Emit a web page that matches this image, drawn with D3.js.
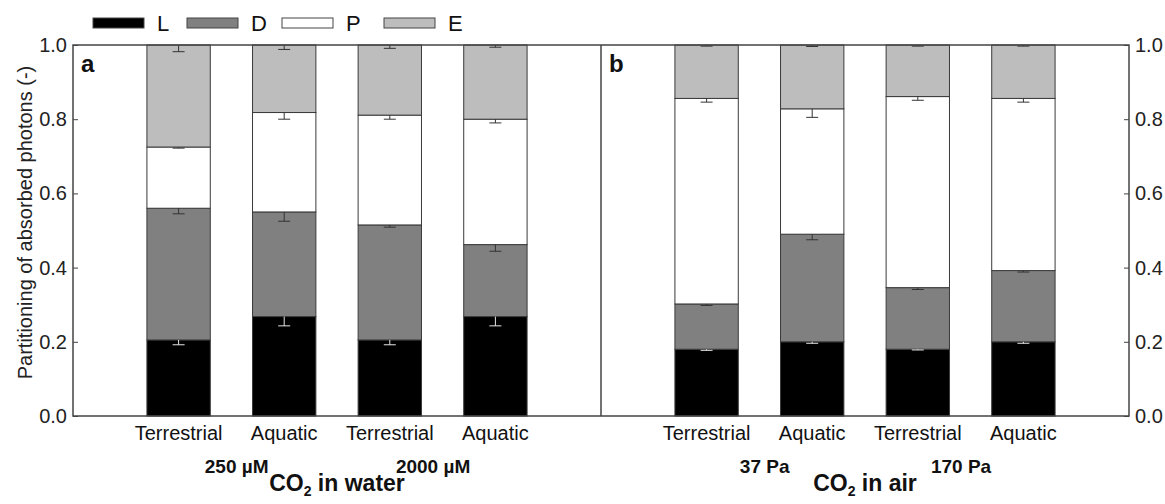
<!DOCTYPE html>
<html>
<head>
<meta charset="utf-8">
<script src="https://cdn.jsdelivr.net/npm/d3@7"></script>
<style>
  body { margin: 0; background: #fff; }
  svg { display: block; font-family: Arial, "Liberation Sans", Helvetica, sans-serif; }
</style>
</head>
<body>
<div class="chart"></div>
<script>
// ---- data ----
const components = ['L', 'D', 'P', 'E'];
const compColors = ['#000000', '#808080', '#ffffff', '#bdbdbd'];
const categories = ['Terrestrial', 'Aquatic', 'Terrestrial', 'Aquatic'];
const yTicks = [0, 0.2, 0.4, 0.6, 0.8, 1.0];

// panel a: CO2 in water
const waterLevels = ['250 \u00b5M', '2000 \u00b5M'];
const waterL = [0.205, 0.268, 0.205, 0.268];
const waterD = [0.355, 0.282, 0.310, 0.194];
const waterP = [0.165, 0.268, 0.296, 0.338];
const waterE = [0.275, 0.182, 0.189, 0.200];
const waterErrL = [0.013, 0.025, 0.013, 0.025];
const waterErrD = [0.015, 0.025, 0.006, 0.018];
const waterErrP = [0.003, 0.018, 0.011, 0.010];
const waterErrE = [0.018, 0.012, 0.009, 0.006];

// panel b: CO2 in air
const airLevels = ['37 Pa', '170 Pa'];
const airL = [0.180, 0.200, 0.180, 0.200];
const airD = [0.122, 0.290, 0.166, 0.192];
const airP = [0.554, 0.338, 0.515, 0.464];
const airE = [0.144, 0.172, 0.139, 0.144];
const airErrL = [0.003, 0.004, 0.002, 0.004];
const airErrD = [0.004, 0.015, 0.005, 0.004];
const airErrP = [0.010, 0.023, 0.010, 0.010];
const airErrE = [0.003, 0.004, 0.003, 0.003];

const levelPos = [1.55, 3.41];   // x position of level labels (bar units)

// ---- layout ----
const width = 1165;
const height = 504;
const plotLeft = 73, plotRight = 1129, plotMid = 601, plotTop = 45, plotBottom = 416;

const svg = d3.select('.chart')
  .append('svg')
  .attr('width', width)
  .attr('height', height);

const y = d3.scaleLinear().domain([0, 1]).range([plotBottom, plotTop]);

function buildRows(L, D, P, E, eL, eD, eP, eE) {
  return L.map((v, i) => ({
    i: i,
    L: v, D: D[i], P: P[i], E: E[i],
    err: { L: eL[i], D: eD[i], P: eP[i], E: eE[i] }
  }));
}

const panels = [
  {
    tag: 'a', x0: plotLeft, x1: plotMid, levels: waterLevels, title: 'water',
    rows: buildRows(waterL, waterD, waterP, waterE, waterErrL, waterErrD, waterErrP, waterErrE)
  },
  {
    tag: 'b', x0: plotMid, x1: plotRight, levels: airLevels, title: 'air',
    rows: buildRows(airL, airD, airP, airE, airErrL, airErrD, airErrP, airErrE)
  }
];

const stack = d3.stack().keys(components);
const color = d3.scaleOrdinal().domain(components).range(compColors);
const barW = 0.6;

panels.forEach((p) => {
  const x = d3.scaleLinear().domain([0, 5]).range([p.x0, p.x1]);
  const g = svg.append('g');
  const series = stack(p.rows);

  // stacked bars
  series.forEach((s) => {
    g.append('g')
      .selectAll('rect')
      .data(s)
      .enter().append('rect')
      .attr('x', (d) => x(d.data.i + 1 - barW / 2))
      .attr('width', x(barW) - x(0))
      .attr('y', (d) => y(d[1]))
      .attr('height', (d) => y(d[0]) - y(d[1]))
      .attr('fill', color(s.key))
      .attr('stroke', '#3a3a3a')
      .attr('stroke-width', 1);
  });

  // error bars (only the lower half shows, the upper half hides under the next segment)
  series.forEach((s) => {
    const stroke = s.key === 'L' ? '#e6e6e6' : '#333';
    const eg = g.append('g').attr('stroke', stroke).attr('stroke-width', 1);
    s.forEach((d) => {
      const cx = x(d.data.i + 1);
      const e = d.data.err[s.key];
      eg.append('line')
        .attr('x1', cx).attr('x2', cx)
        .attr('y1', y(d[1])).attr('y2', y(d[1] - e));
      eg.append('line')
        .attr('x1', cx - 6).attr('x2', cx + 6)
        .attr('y1', y(d[1] - e)).attr('y2', y(d[1] - e));
    });
  });

  // category labels
  g.selectAll('text.cat')
    .data(categories)
    .enter().append('text')
    .attr('class', 'cat')
    .attr('x', (d, i) => x(i + 1))
    .attr('y', 440)
    .attr('text-anchor', 'middle')
    .attr('font-size', 20)
    .attr('fill', '#111')
    .text((d) => d);

  // level labels
  g.selectAll('text.level')
    .data(p.levels)
    .enter().append('text')
    .attr('class', 'level')
    .attr('x', (d, i) => x(levelPos[i]))
    .attr('y', 473)
    .attr('text-anchor', 'middle')
    .attr('font-size', 19)
    .attr('font-weight', 'bold')
    .attr('fill', '#111')
    .text((d) => d);

  // group title: CO2 in ...
  const t = g.append('text')
    .attr('x', x(2.5))
    .attr('y', 491)
    .attr('text-anchor', 'middle')
    .attr('font-size', 23)
    .attr('font-weight', 'bold')
    .attr('fill', '#111');
  t.append('tspan').text('CO');
  t.append('tspan').attr('font-size', 14).attr('dy', 5).text('2');
  t.append('tspan').attr('dy', -5).text(' in ' + p.title);

  // panel tag
  g.append('text')
    .attr('x', p.x0 + 8)
    .attr('y', 72)
    .attr('font-size', 24)
    .attr('font-weight', 'bold')
    .attr('fill', '#111')
    .text(p.tag);
});

// ---- axes ----
const fmt = d3.format('.1f');
const yAxisL = d3.axisLeft(y).tickValues(yTicks).tickFormat(fmt).tickSizeInner(-5).tickSizeOuter(0).tickPadding(6);
const yAxisR = d3.axisRight(y).tickValues(yTicks).tickFormat(fmt).tickSizeInner(-5).tickSizeOuter(0).tickPadding(6);

const gL = svg.append('g').attr('transform', `translate(${plotLeft},0)`).call(yAxisL);
const gR = svg.append('g').attr('transform', `translate(${plotRight},0)`).call(yAxisR);
[gL, gR].forEach((a) => {
  a.select('.domain').remove();
  a.selectAll('line').attr('stroke', '#444');
  a.selectAll('text').attr('font-size', 20).attr('fill', '#222');
  a.attr('font-family', null).attr('font-size', null);
});

// frame
svg.append('rect')
  .attr('x', plotLeft).attr('y', plotTop)
  .attr('width', plotRight - plotLeft).attr('height', plotBottom - plotTop)
  .attr('fill', 'none').attr('stroke', '#444').attr('stroke-width', 1.5);
svg.append('line')
  .attr('x1', plotMid).attr('x2', plotMid).attr('y1', plotTop).attr('y2', plotBottom)
  .attr('stroke', '#444').attr('stroke-width', 1.5);

// y title
svg.append('text')
  .attr('transform', `translate(32,${(plotTop + plotBottom) / 2 - 8}) rotate(-90)`)
  .attr('text-anchor', 'middle')
  .attr('font-size', 20)
  .attr('fill', '#222')
  .text('Partitioning of absorbed photons (-)');

// ---- legend ----
const legend = svg.append('g');
const legX = [93, 187, 282, 384];
components.forEach((c, i) => {
  legend.append('rect')
    .attr('x', legX[i]).attr('y', 18)
    .attr('width', 51).attr('height', 10)
    .attr('fill', compColors[i])
    .attr('stroke', '#444').attr('stroke-width', 1);
  legend.append('text')
    .attr('x', legX[i] + 64).attr('y', 31)
    .attr('font-size', 22)
    .attr('fill', '#111')
    .text(c);
});
</script>
</body>
</html>
